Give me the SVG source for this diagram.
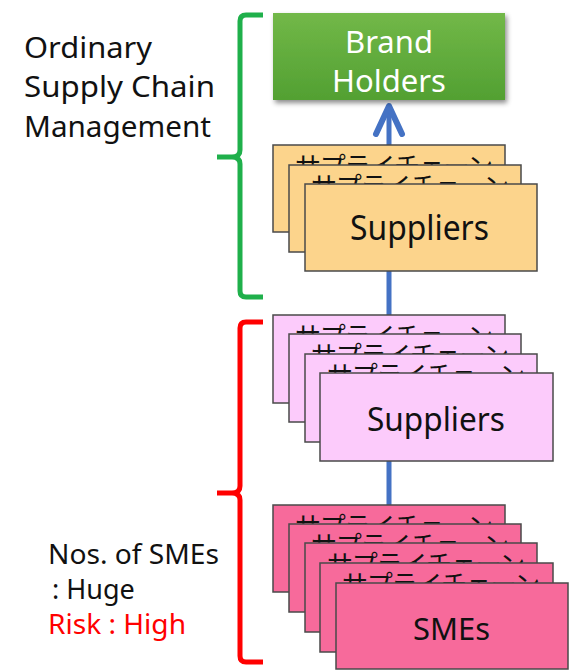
<svg xmlns="http://www.w3.org/2000/svg" width="575" height="670" viewBox="0 0 575 670">
<defs>
<linearGradient id="gGreen" x1="0" y1="0" x2="0" y2="1"><stop offset="0" stop-color="#72b848"/><stop offset="1" stop-color="#52a032"/></linearGradient>
<filter id="sh" x="-10%" y="-10%" width="125%" height="130%"><feDropShadow dx="2" dy="3" stdDeviation="2.5" flood-color="#000" flood-opacity="0.45"/></filter>
<style>
.lbl{font-family:"Noto Sans","Open Sans","DejaVu Sans",sans-serif;fill:#111}
.jp{font-family:"Noto Sans CJK JP","Noto Sans",sans-serif;font-size:26px;fill:#111}
.y{fill:#fcd48c;stroke:#4a4a4a;stroke-width:1.5}
.p{fill:#fccbfb;stroke:#4a4a4a;stroke-width:1.5}
.m{fill:#f76a9b;stroke:#4a4a4a;stroke-width:1.5}
.br{fill:none;stroke-width:5;stroke-linejoin:round;stroke-linecap:butt}
</style>
</defs>
<rect width="575" height="670" fill="#fff"/>
<g id="connectors">
<line x1="389" y1="106" x2="389" y2="506" stroke="#4472c4" stroke-width="5"/>
<polyline points="376,134 389,106 402,134" fill="none" stroke="#4472c4" stroke-width="6" stroke-linecap="round" stroke-linejoin="round"/>
</g>
<g id="brand-holders">
<rect x="273" y="13" width="232" height="87" fill="url(#gGreen)" filter="url(#sh)"/>
<text class="lbl" x="389" y="53" text-anchor="middle" font-size="31" style="fill:#fff">Brand</text>
<text class="lbl" x="389" y="92" text-anchor="middle" font-size="31" style="fill:#fff">Holders</text>
</g>
<g id="suppliers-1">
<rect class="y" x="273" y="145" width="232" height="87"/>
<text class="jp" x="295" y="176" textLength="198" lengthAdjust="spacing">サプライチェーン</text>
<rect class="y" x="289" y="165" width="232" height="87"/>
<text class="jp" x="311" y="196" textLength="198" lengthAdjust="spacing">サプライチェーン</text>
<rect class="y" x="305" y="184" width="232" height="87"/>
<text class="lbl" x="350" y="240" font-size="35" textLength="139" lengthAdjust="spacingAndGlyphs">Suppliers</text>
</g>
<g id="suppliers-2">
<rect class="p" x="273" y="315" width="232" height="88"/>
<text class="jp" x="295" y="346" textLength="198" lengthAdjust="spacing">サプライチェーン</text>
<rect class="p" x="289" y="334" width="232" height="88"/>
<text class="jp" x="311" y="365" textLength="198" lengthAdjust="spacing">サプライチェーン</text>
<rect class="p" x="305" y="354" width="232" height="88"/>
<text class="jp" x="327" y="385" textLength="198" lengthAdjust="spacing">サプライチェーン</text>
<rect class="p" x="320" y="373" width="233" height="88"/>
<text class="lbl" x="367" y="431" font-size="33" textLength="138" lengthAdjust="spacingAndGlyphs">Suppliers</text>
</g>
<g id="smes">
<rect class="m" x="273" y="505" width="232" height="87"/>
<text class="jp" x="295" y="536" textLength="198" lengthAdjust="spacing">サプライチェーン</text>
<rect class="m" x="289" y="524" width="232" height="88"/>
<text class="jp" x="311" y="555" textLength="198" lengthAdjust="spacing">サプライチェーン</text>
<rect class="m" x="305" y="543" width="232" height="89"/>
<text class="jp" x="327" y="574" textLength="198" lengthAdjust="spacing">サプライチェーン</text>
<rect class="m" x="320" y="563" width="233" height="89"/>
<text class="jp" x="342" y="594" textLength="198" lengthAdjust="spacing">サプライチェーン</text>
<rect class="m" x="336" y="583" width="232" height="86"/>
<text class="lbl" x="413" y="640" font-size="31" textLength="77" lengthAdjust="spacingAndGlyphs">SMEs</text>
</g>
<g id="ordinary-bracket">
<path class="br" stroke="#1fb04b" d="M263,15 L246,15 Q240,15 240,21 L240,150 Q240,157 232,157 L217,157 M232,157 Q240,157 240,164 L240,291 Q240,297 246,297 L263,297"/>
<text class="lbl" x="24" y="58" font-size="29" textLength="128" lengthAdjust="spacingAndGlyphs">Ordinary</text>
<text class="lbl" x="24" y="97" font-size="29" textLength="191" lengthAdjust="spacingAndGlyphs">Supply Chain</text>
<text class="lbl" x="24" y="137" font-size="29" textLength="187" lengthAdjust="spacingAndGlyphs">Management</text>
</g>
<g id="risk-bracket">
<path class="br" stroke="#ff0000" d="M263,322 L246,322 Q240,322 240,328 L240,486 Q240,493 232,493 L217,493 M232,493 Q240,493 240,500 L240,656 Q240,662 246,662 L263,662"/>
<text class="lbl" x="48" y="564" font-size="27" textLength="171" lengthAdjust="spacingAndGlyphs">Nos. of SMEs</text>
<text class="lbl" x="52" y="599" font-size="27">: Huge</text>
<text class="lbl" x="48" y="634" font-size="27" style="fill:#ff0000" textLength="138" lengthAdjust="spacingAndGlyphs">Risk : High</text>
</g>
</svg>
